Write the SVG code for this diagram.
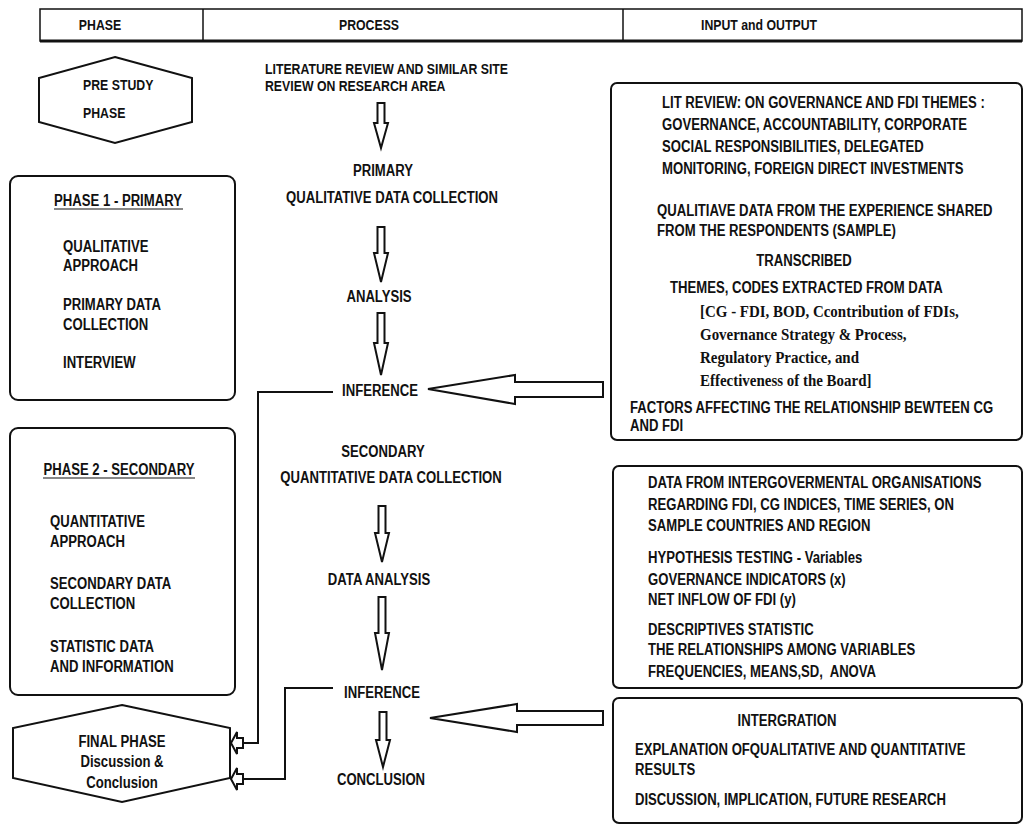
<svg xmlns="http://www.w3.org/2000/svg" width="1028" height="825" viewBox="0 0 1028 825">
<style>
.t{font-family:"Liberation Sans",Arial,sans-serif;font-weight:bold;font-size:16px;fill:#111}
.t15{font-size:15px}
.m{text-anchor:middle}
.s{font-family:"Liberation Serif","Times New Roman",serif;font-weight:bold;font-size:17px;fill:#111}
.box{fill:#fff;stroke:#111;stroke-width:2}
.arr{fill:#fff;stroke:#111;stroke-width:2;stroke-linejoin:miter}
.ln{fill:none;stroke:#111;stroke-width:2}
</style>
<rect width="1028" height="825" fill="#fff"/>

<g id="header">
<rect x="40" y="9" width="982" height="32" fill="#fff" stroke="#111" stroke-width="1.5"/>
<line x1="40" y1="41" x2="1022" y2="41" stroke="#111" stroke-width="3"/>
<line x1="203" y1="9" x2="203" y2="41" stroke="#111" stroke-width="1.5"/>
<line x1="623" y1="9" x2="623" y2="41" stroke="#111" stroke-width="1.5"/>
<text class="t t15 m" transform="translate(100 30) scale(.82 1)">PHASE</text>
<text class="t t15 m" transform="translate(369 30) scale(.82 1)">PROCESS</text>
<text class="t t15 m" transform="translate(759 30) scale(.82 1)">INPUT and OUTPUT</text>
</g>

<g id="pre-study">
<polygon class="box" points="115,57 192,78 192,122 115,143 39,122 39,78"/>
<text class="t t15" transform="translate(83 90) scale(.82 1)">PRE STUDY</text>
<text class="t t15" transform="translate(83 118) scale(.82 1)">PHASE</text>
</g>

<g id="phase1">
<rect class="box" x="10" y="176" width="225" height="224" rx="8"/>
<text class="t m" transform="translate(118 206) scale(.82 1)">PHASE 1 - PRIMARY</text>
<line x1="54" y1="209" x2="183" y2="209" stroke="#111" stroke-width="1.2"/>
<text class="t" transform="translate(63 252) scale(.82 1)">QUALITATIVE</text>
<text class="t" transform="translate(63 271) scale(.82 1)">APPROACH</text>
<text class="t" transform="translate(63 310) scale(.82 1)">PRIMARY DATA</text>
<text class="t" transform="translate(63 330) scale(.82 1)">COLLECTION</text>
<text class="t" transform="translate(63 368) scale(.82 1)">INTERVIEW</text>
</g>

<g id="phase2">
<rect class="box" x="10" y="428" width="225" height="267" rx="8"/>
<text class="t m" transform="translate(119 475) scale(.82 1)">PHASE 2 - SECONDARY</text>
<line x1="43" y1="478" x2="195" y2="478" stroke="#111" stroke-width="1.2"/>
<text class="t" transform="translate(50 527) scale(.82 1)">QUANTITATIVE</text>
<text class="t" transform="translate(50 547) scale(.82 1)">APPROACH</text>
<text class="t" transform="translate(50 589) scale(.82 1)">SECONDARY DATA</text>
<text class="t" transform="translate(50 609) scale(.82 1)">COLLECTION</text>
<text class="t" transform="translate(50 652) scale(.82 1)">STATISTIC DATA</text>
<text class="t" transform="translate(50 672) scale(.82 1)">AND INFORMATION</text>
</g>

<g id="final-phase">
<polygon class="box" points="122,705 230,728 230,778 122,802 13,778 13,728"/>
<text class="t m" transform="translate(122 747) scale(.82 1)">FINAL PHASE</text>
<text class="t m" transform="translate(122 767) scale(.82 1)">Discussion &amp;</text>
<text class="t m" transform="translate(122 788) scale(.82 1)">Conclusion</text>
</g>

<g id="process">
<text class="t t15" transform="translate(265 74) scale(.82 1)">LITERATURE REVIEW AND SIMILAR SITE</text>
<text class="t t15" transform="translate(265 91) scale(.82 1)">REVIEW ON RESEARCH AREA</text>
<text class="t m" transform="translate(383 176) scale(.82 1)">PRIMARY</text>
<text class="t m" transform="translate(392 203) scale(.82 1)">QUALITATIVE DATA COLLECTION</text>
<text class="t m" transform="translate(379 302) scale(.82 1)">ANALYSIS</text>
<text class="t m" transform="translate(380 396) scale(.82 1)">INFERENCE</text>
<text class="t m" transform="translate(383 457) scale(.82 1)">SECONDARY</text>
<text class="t m" transform="translate(391 483) scale(.82 1)">QUANTITATIVE DATA COLLECTION</text>
<text class="t m" transform="translate(379 585) scale(.82 1)">DATA ANALYSIS</text>
<text class="t m" transform="translate(382 698) scale(.82 1)">INFERENCE</text>
<text class="t m" transform="translate(381 785) scale(.82 1)">CONCLUSION</text>
</g>

<g id="lit-review-box">
<rect class="box" x="611" y="83" width="411" height="357" rx="6"/>
<text class="t" transform="translate(662 108) scale(.82 1)">LIT REVIEW: ON GOVERNANCE AND FDI THEMES :</text>
<text class="t" transform="translate(662 130) scale(.82 1)">GOVERNANCE, ACCOUNTABILITY, CORPORATE</text>
<text class="t" transform="translate(662 152) scale(.82 1)">SOCIAL RESPONSIBILITIES, DELEGATED</text>
<text class="t" transform="translate(662 174) scale(.82 1)">MONITORING, FOREIGN DIRECT INVESTMENTS</text>
<text class="t" transform="translate(657 216) scale(.82 1)">QUALITIAVE DATA FROM THE EXPERIENCE SHARED</text>
<text class="t" transform="translate(657 236) scale(.82 1)">FROM THE RESPONDENTS (SAMPLE)</text>
<text class="t m" transform="translate(804 266) scale(.82 1)">TRANSCRIBED</text>
<text class="t" transform="translate(670 293) scale(.82 1)">THEMES, CODES EXTRACTED FROM DATA</text>
<text class="s" transform="translate(700 317) scale(.88 1)">[CG - FDI, BOD, Ccontribution of FDIs,</text>
<text class="s" transform="translate(700 340) scale(.88 1)">Governance Strategy &amp; Process,</text>
<text class="s" transform="translate(700 363) scale(.88 1)">Regulatory Practice, and</text>
<text class="s" transform="translate(700 386) scale(.88 1)">Effectiveness of the Board]</text>
<text class="t" transform="translate(630 413) scale(.82 1)">FACTORS AFFECTING THE RELATIONSHIP BEWTEEN CG</text>
<text class="t" transform="translate(630 431) scale(.82 1)">AND FDI</text>
</g>

<g id="secondary-data-box">
<rect class="box" x="613" y="466" width="409" height="222" rx="6"/>
<text class="t" transform="translate(648 488) scale(.82 1)">DATA FROM INTERGOVERMENTAL ORGANISATIONS</text>
<text class="t" transform="translate(648 510) scale(.82 1)">REGARDING FDI, CG INDICES, TIME SERIES, ON</text>
<text class="t" transform="translate(648 531) scale(.82 1)">SAMPLE COUNTRIES AND REGION</text>
<text class="t" transform="translate(648 563) scale(.82 1)">HYPOTHESIS TESTING - Variables</text>
<text class="t" transform="translate(648 585) scale(.82 1)">GOVERNANCE INDICATORS (x)</text>
<text class="t" transform="translate(648 605) scale(.82 1)">NET INFLOW OF FDI (y)</text>
<text class="t" transform="translate(648 635) scale(.82 1)">DESCRIPTIVES STATISTIC</text>
<text class="t" transform="translate(648 655) scale(.82 1)">THE RELATIONSHIPS AMONG VARIABLES</text>
<text class="t" transform="translate(648 677) scale(.82 1)" xml:space="preserve">FREQUENCIES, MEANS,SD,  ANOVA</text>
</g>

<g id="integration-box">
<rect class="box" x="613" y="698" width="409" height="125" rx="6"/>
<text class="t m" transform="translate(787 726) scale(.82 1)">INTERGRATION</text>
<text class="t" transform="translate(635 755) scale(.82 1)">EXPLANATION OFQUALITATIVE AND QUANTITATIVE</text>
<text class="t" transform="translate(635 775) scale(.82 1)">RESULTS</text>
<text class="t" transform="translate(635 805) scale(.82 1)">DISCUSSION, IMPLICATION, FUTURE RESEARCH</text>
</g>

<g id="connectors">
<polygon class="arr" points="377.5,103 384.5,103 384.5,123 388,123 381,148 374,123 377.5,123"/>
<polygon class="arr" points="377.5,227 384.5,227 384.5,253 388,253 381,282 374,253 377.5,253"/>
<polygon class="arr" points="377.5,313 384.5,313 384.5,343 388,343 381,375 374,343 377.5,343"/>
<polygon class="arr" points="378.5,506 385.5,506 385.5,533 389,533 382,562 375,533 378.5,533"/>
<polygon class="arr" points="378.5,597 385.5,597 385.5,633 389,633 382,670 375,633 378.5,633"/>
<polygon class="arr" points="379.5,712 386.5,712 386.5,740 390,740 383,767 376,740 379.5,740"/>
<polygon class="arr" points="428,389 515,375 515,382 603,382 603,397 515,397 515,404"/>
<polygon class="arr" points="430,718 517,704 517,711 603,711 603,725 517,725 517,732"/>
<polyline class="ln" points="333,392 258,392 258,743 243,743"/>
<polyline class="ln" points="333,688 285,688 285,779 243,779"/>
<polygon class="arr" points="231,743 237,732 237,738 243,738 243,748 237,748 237,754"/>
<polygon class="arr" points="231,779 237,768 237,774 243,774 243,784 237,784 237,790"/>
</g>
</svg>
